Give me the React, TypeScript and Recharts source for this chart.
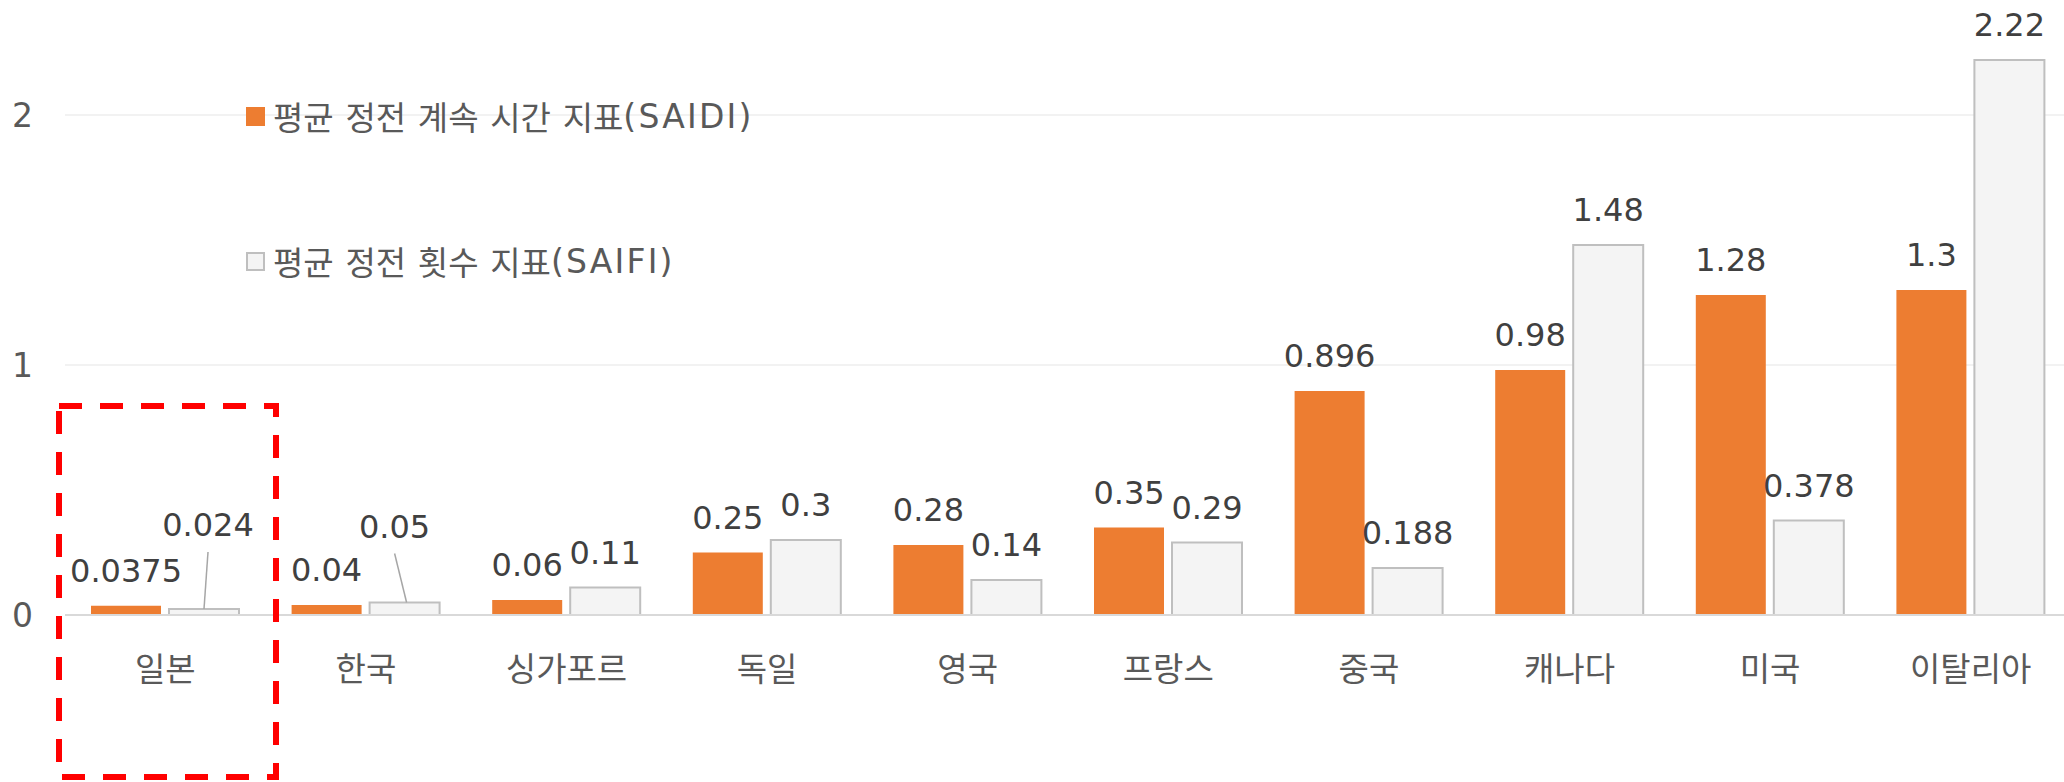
import React from 'react';
import { BarChart, Bar, XAxis, YAxis, CartesianGrid, Legend, LabelList } from 'recharts';

const categories = ['일본', '한국', '싱가포르', '독일', '영국', '프랑스', '중국', '캐나다', '미국', '이탈리아'];
const saidiValues = [0.0375, 0.04, 0.06, 0.25, 0.28, 0.35, 0.896, 0.98, 1.28, 1.3];
const saifiValues = [0.024, 0.05, 0.11, 0.3, 0.14, 0.29, 0.188, 1.48, 0.378, 2.22];
const yTicks = [0, 1, 2];
const saidiName = '평균 정전 계속 시간 지표(SAIDI)';
const saifiName = '평균 정전 횟수 지표(SAIFI)';

const data = categories.map((c, i) => ({ country: c, saidi: saidiValues[i], saifi: saifiValues[i] }));

const ORANGE = '#ED7D31';
const LIGHT = '#F4F4F4';
const LIGHT_STROKE = '#BFBFBF';
const FONT = "'DejaVu Sans', 'Noto Sans CJK KR', sans-serif";

// manually lifted labels (with leader lines), keyed by category
const saifiLift: Record<string, { dx: number; rise: number; endDx: number }> = {
  '일본': { dx: 4, rise: 73, endDx: 0 },
  '한국': { dx: -10, rise: 65, endDx: 2 },
};

const makeLabel = (lift: Record<string, { dx: number; rise: number; endDx: number }>) => (props: any) => {
  const vb = props.viewBox || props;
  const x = props.x ?? vb.x;
  const y = props.y ?? vb.y;
  const width = props.width ?? vb.width;
  const { value, index } = props;
  const cx = x + width / 2;
  const cat = categories[index];
  const l = lift[cat];
  const textProps = { fontFamily: FONT, fontSize: 32, fill: '#404040', textAnchor: 'middle' as const };
  if (l) {
    const lx = cx + l.dx;
    const by = y - l.rise;
    return (
      <g>
        <line x1={lx} y1={by + 16} x2={cx + l.endDx} y2={y} stroke="#A6A6A6" strokeWidth={1.5} />
        <text x={lx} y={by} {...textProps}>{String(value)}</text>
      </g>
    );
  }
  return <text x={cx} y={y - 24} {...textProps}>{String(value)}</text>;
};

const YTick = (props: any) => {
  const { x, y, payload } = props;
  return (
    <text x={x} y={y} dy="0.36em" textAnchor="end" fontFamily={FONT} fontSize={33} fill="#595959">
      {payload.value}
    </text>
  );
};

const XTick = (props: any) => {
  const { x, y, payload } = props;
  return (
    <text x={x} y={y + 66} textAnchor="middle" fontFamily={FONT} fontSize={33} fill="#595959">
      {payload.value}
    </text>
  );
};

const LegendContent = (props: any) => {
  const items = [
    { name: saidiName, fill: ORANGE, stroke: 'none', top: 116 },
    { name: saifiName, fill: LIGHT, stroke: LIGHT_STROKE, top: 261 },
  ];
  const payload = props.payload || [];
  return (
    <div style={{ position: 'relative', width: 0, height: 0 }}>
      {items.map((it, i) => {
        const entry = payload[i];
        const label: string = entry && entry.value ? String(entry.value) : it.name;
        const cut = label.indexOf('(');
        const korean = cut >= 0 ? label.slice(0, cut) : label;
        const latin = cut >= 0 ? label.slice(cut) : '';
        return (
          <div
            key={i}
            style={{
              position: 'absolute',
              left: 246,
              top: it.top - 22,
              height: 44,
              display: 'flex',
              alignItems: 'center',
              whiteSpace: 'pre',
              fontFamily: FONT,
              fontSize: 33,
              color: '#595959',
            }}
          >
            <svg width={19} height={19} style={{ marginRight: 8, flex: 'none' }}>
              <rect
                x={it.stroke === 'none' ? 0 : 1}
                y={it.stroke === 'none' ? 0 : 1}
                width={it.stroke === 'none' ? 19 : 17}
                height={it.stroke === 'none' ? 19 : 17}
                fill={it.fill}
                stroke={it.stroke}
                strokeWidth={2}
              />
            </svg>
            <span style={{ wordSpacing: 1.2 }}>{korean}</span>
            <span style={{ letterSpacing: 2.2 }}>{latin}</span>
          </div>
        );
      })}
    </div>
  );
};

export default function App() {
  return (
    <div
      style={{
        position: 'absolute',
        left: 0,
        top: 0,
        width: 2064,
        height: 782,
        overflow: 'hidden',
        background: '#ffffff',
      }}
    >
      <BarChart
        width={2071}
        height={782}
        data={data}
        margin={{ top: 15, right: 0, bottom: 0, left: 0 }}
        barSize={70}
        barGap={8}
      >
        <CartesianGrid vertical={false} horizontalValues={yTicks} stroke="#F2F2F2" strokeWidth={2} />
        <XAxis
          dataKey="country"
          height={167}
          tickSize={0}
          tickMargin={0}
          tickLine={false}
          axisLine={{ stroke: '#D9D9D9', strokeWidth: 2 }}
          tick={<XTick />}
          interval={0}
        />
        <YAxis
          domain={[0, 2.4]}
          ticks={yTicks}
          width={65}
          tickSize={0}
          tickMargin={32}
          tickLine={false}
          axisLine={false}
          tick={<YTick />}
        />
        <Legend
          layout="horizontal"
          verticalAlign="middle"
          align="left"
          wrapperStyle={{ position: 'absolute', left: 0, top: 0, width: 0, height: 0 }}
          content={<LegendContent />}
        />
        <Bar dataKey="saidi" name={saidiName} fill={ORANGE} isAnimationActive={false}>
          <LabelList dataKey="saidi" content={makeLabel({})} />
        </Bar>
        <Bar dataKey="saifi" name={saifiName} fill={LIGHT} stroke={LIGHT_STROKE} strokeWidth={2} isAnimationActive={false}>
          <LabelList dataKey="saifi" content={makeLabel(saifiLift)} />
        </Bar>
      </BarChart>
      <svg
        width={2064}
        height={782}
        style={{ position: 'absolute', left: 0, top: 0, pointerEvents: 'none' }}
      >
        <rect x={59} y={406} width={217} height={371} fill="none" stroke="#FF0000" strokeWidth={6} strokeDasharray="23 18" />
      </svg>
    </div>
  );
}
